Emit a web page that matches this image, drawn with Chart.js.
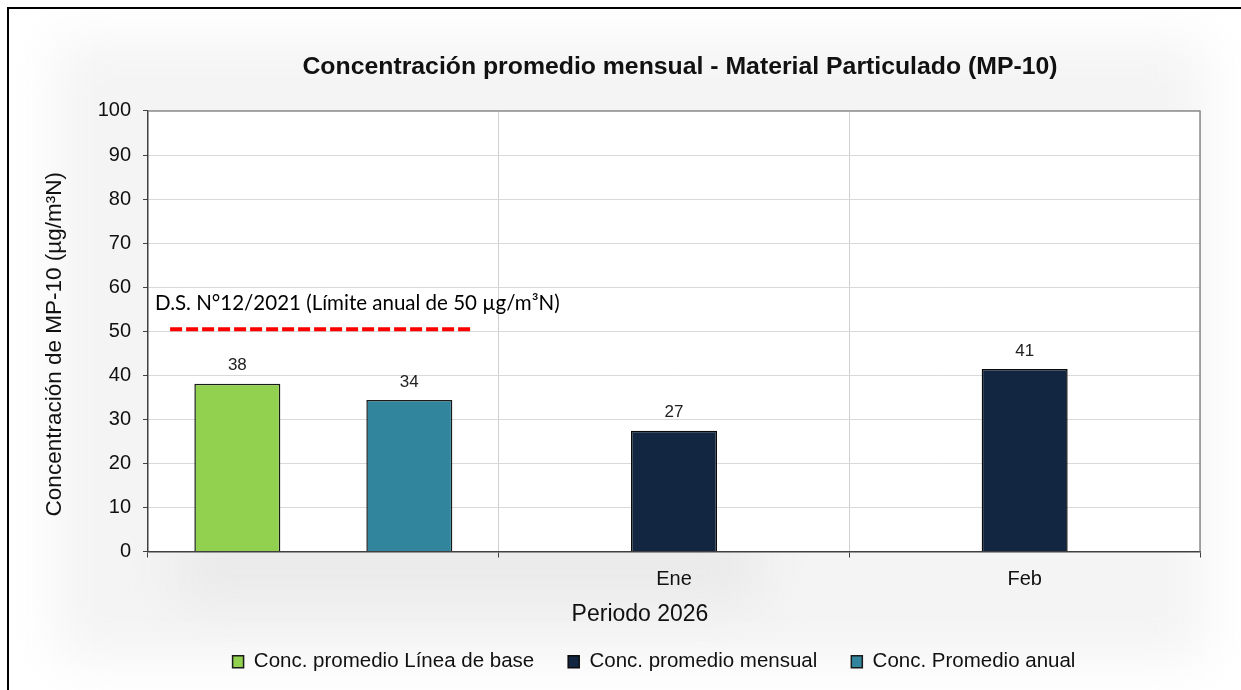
<!DOCTYPE html>
<html>
<head>
<meta charset="utf-8">
<script src="https://cdn.jsdelivr.net/npm/chart.js@4.4.0/dist/chart.umd.min.js"></script>
<style>
	html, body { margin: 0; padding: 0; background: #fff; }
</style>
</head>
<body>
<canvas id="grafico" width="1241" height="690"></canvas>
<script>
// datos
var categorias = ['', 'Ene', 'Feb'];
var lineaBase = [38.1, null, null];
var promedioMensual = [null, 27.4, 41.4];
var promedioAnual = [34.4, null, null];
var limiteAnual = 50;
var textoLimite = 'D.S. N°12/2021 (Límite anual de 50 µg/m³N)';
var tituloX = 'Periodo 2026';
var tituloY = 'Concentración de MP-10 (µg/m³N)';
var ejeY = { min: 0, max: 100, paso: 10 };

var fuente = 'Arial, "Liberation Sans", sans-serif';

var fondo = {
	id: 'fondo',
	beforeDraw: function(chart) {
		var ctx = chart.ctx, a = chart.chartArea;
		ctx.save();
		ctx.fillStyle = '#fff';
		ctx.fillRect(0, 0, chart.width, chart.height);
		// sombra suave del area del grafico
		ctx.filter = 'blur(25px)';
		ctx.fillStyle = '#f4f4f4';
		ctx.fillRect(55, 40, chart.width - 90, chart.height - 70);
		ctx.fillStyle = '#e9e9e9';
		ctx.fillRect(a.left + 30, a.bottom - 20, (a.right - a.left) * 0.55, 70);
		ctx.filter = 'none';
		ctx.fillStyle = '#fff';
		ctx.fillRect(a.left, a.top, a.right - a.left, a.bottom - a.top);
		ctx.strokeStyle = '#000';
		ctx.lineWidth = 2;
		ctx.beginPath();
		ctx.moveTo(8, chart.height);
		ctx.lineTo(8, 8);
		ctx.lineTo(chart.width, 8);
		ctx.stroke();
		ctx.restore();
	}
};

var desplazar = {
	id: 'desplazar',
	afterLayout: function(chart) {
		var a = chart.chartArea;
		var medio = (a.left + a.right) / 2;
		var t = chart.titleBlock;
		var dt = medio + 6 - (t.left + t.right) / 2;
		t.left += dt; t.right += dt;
		var l = chart.legend;
		var dl = medio - 20 - (l.left + l.right) / 2;
		l.left += dl; l.right += dl;
	}
};

var marcas = {
	id: 'marcas',
	afterDatasetsDraw: function(chart) {
		var ctx = chart.ctx, a = chart.chartArea;
		var x = chart.scales.x, y = chart.scales.y;
		ctx.save();
		// borde gris superior y derecho del area de trazado
		ctx.strokeStyle = '#8c8c8c';
		ctx.lineWidth = 1.5;
		ctx.beginPath();
		ctx.moveTo(a.left, a.top);
		ctx.lineTo(a.right, a.top);
		ctx.lineTo(a.right, a.bottom);
		ctx.stroke();

		// linea de limite
		var anchoCat = x.getPixelForValue(1) - x.getPixelForValue(0);
		var c0 = x.getPixelForValue(0);
		var yl = y.getPixelForValue(limiteAnual) - 2;
		ctx.strokeStyle = '#ff0000';
		ctx.lineWidth = 4;
		ctx.setLineDash([12, 4]);
		ctx.beginPath();
		ctx.moveTo(c0 - anchoCat * 0.437, yl);
		ctx.lineTo(c0 + anchoCat * 0.427, yl);
		ctx.stroke();
		ctx.setLineDash([]);
		ctx.fillStyle = '#000';
		ctx.font = '20.5px Lato, "Open Sans", sans-serif';
		ctx.textAlign = 'left';
		ctx.textBaseline = 'middle';
		ctx.fillText(textoLimite, a.left + 7, yl - 26);

		// etiquetas de valores
		ctx.font = '17px ' + fuente;
		ctx.fillStyle = '#222';
		ctx.textAlign = 'center';
		chart.data.datasets.forEach(function(ds, i) {
			var meta = chart.getDatasetMeta(i);
			meta.data.forEach(function(barra, j) {
				var v = ds.data[j];
				if (v === null || v === undefined) return;
				ctx.fillText(String(Math.round(v)), barra.x, barra.y - 18);
			});
		});

		// titulo del eje x
		ctx.font = '23px ' + fuente;
		ctx.fillStyle = '#111';
		ctx.fillText(tituloX, (a.left + a.right) / 2 - 34, x.bottom - 3);

		// titulo del eje y
		ctx.save();
		ctx.translate(55, (a.top + a.bottom) / 2 + 13);
		ctx.rotate(-Math.PI / 2);
		ctx.font = '22.5px ' + fuente;
		ctx.fillText(tituloY, 0, 0);
		ctx.restore();
		ctx.restore();
	}
};

var ctx = document.getElementById('grafico').getContext('2d');
var grafico = new Chart(ctx, {
	type: 'bar',
	data: {
		labels: categorias,
		datasets: [
			{ label: 'Conc. promedio Línea de base', data: lineaBase, backgroundColor: '#92d050', borderColor: '#1a1a1a', borderWidth: 1.5 },
			{ label: 'Conc. promedio mensual', data: promedioMensual, backgroundColor: '#132641', borderColor: '#0a0a0a', borderWidth: 1.5 },
			{ label: 'Conc. Promedio anual', data: promedioAnual, backgroundColor: '#31859c', borderColor: '#1a1a1a', borderWidth: 1.5 }
		]
	},
	options: {
		responsive: false,
		animation: false,
		devicePixelRatio: 1,
		categoryPercentage: 0.7357,
		barPercentage: 1,
		layout: { padding: { left: 0, right: 41, top: 0, bottom: 8 } },
		plugins: {
			title: {
				display: true,
				text: 'Concentración promedio mensual - Material Particulado (MP-10)',
				color: '#111',
				font: { family: fuente, size: 24.8, weight: 'bold' },
				padding: { top: 52.1, bottom: 29.1 }
			},
			legend: {
				position: 'bottom',
				labels: {
					color: '#111',
					font: { family: fuente, size: 20.5 },
					boxWidth: 11,
					boxHeight: 12,
					padding: 34
				}
			},
			tooltip: { enabled: false }
		},
		scales: {
			x: {
				afterFit: function(s) { s.height = 66; },
				grid: { color: '#d0d0d0', lineWidth: 1, tickColor: '#404040', tickLength: 6, offset: true },
				border: { color: '#404040', width: 1.5 },
				ticks: { color: '#111', font: { family: fuente, size: 20 }, padding: 10 }
			},
			y: {
				min: ejeY.min,
				max: ejeY.max,
				afterFit: function(s) { s.width = 148; },
				grid: { color: '#d9d9d9', lineWidth: 1, tickColor: '#404040', tickLength: 5 },
				border: { color: '#404040', width: 1.5 },
				ticks: { stepSize: ejeY.paso, color: '#111', font: { family: fuente, size: 20 }, padding: 12 }
			}
		}
	},
	plugins: [fondo, desplazar, marcas]
});
</script>
</body>
</html>
